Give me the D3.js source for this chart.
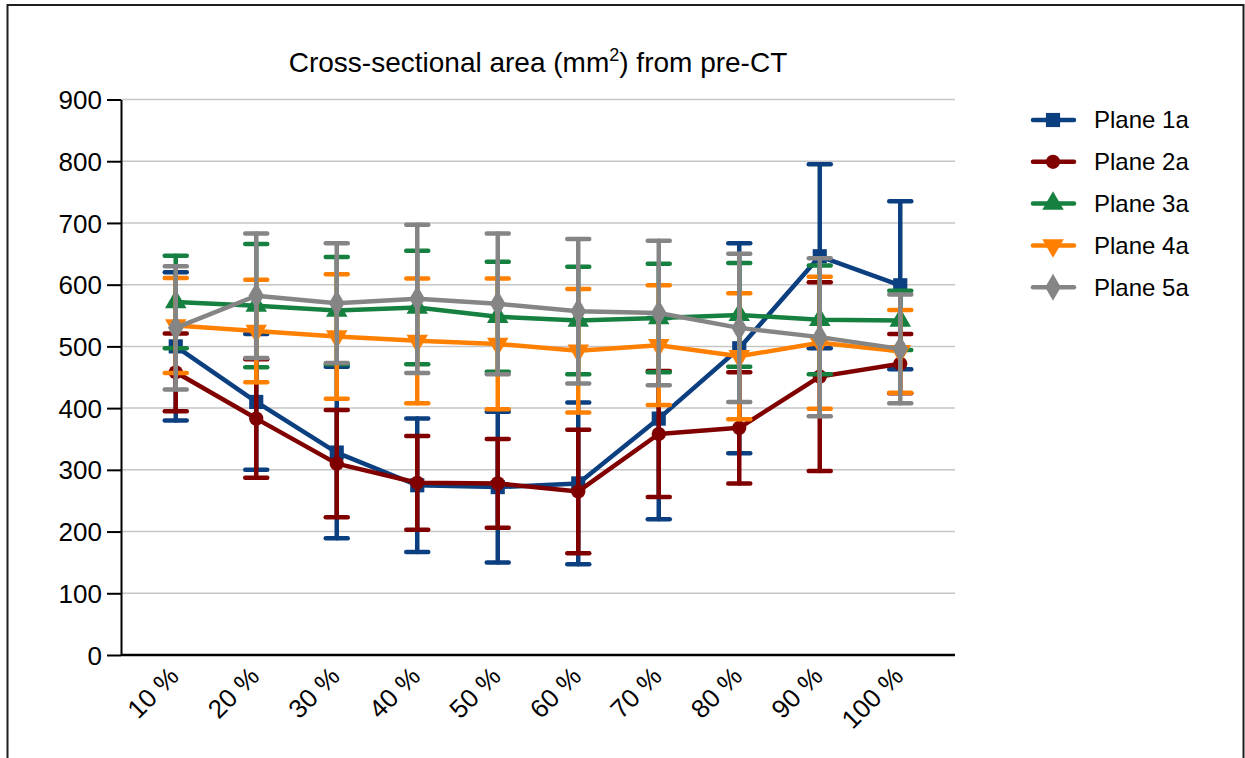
<!DOCTYPE html>
<html>
<head>
<meta charset="utf-8">
<script src="https://cdn.jsdelivr.net/npm/d3@7"></script>
<style>
  body { margin: 0; background: #fff; }
  svg text { font-family: "Liberation Sans", Arial, sans-serif; fill: #000; }
</style>
</head>
<body>
<svg id="chart" width="1245" height="758"></svg>
<script>
let categories = ['10 %', '20 %', '30 %', '40 %', '50 %', '60 %', '70 %', '80 %', '90 %', '100 %'];
let seriesNames = ['Plane 1a', 'Plane 2a', 'Plane 3a', 'Plane 4a', 'Plane 5a'];
let yTicks = [0, 100, 200, 300, 400, 500, 600, 700, 800, 900];

// means and SDs per plane
let plane1Mean = [500, 410, 328, 275, 272, 278, 383, 497, 646, 599];
let plane1Sd = [120, 110, 139, 108, 122, 131, 163, 170, 149, 136];
let plane2Mean = [458, 383, 310, 279, 278, 265, 358, 368, 451, 472];
let plane2Sd = [63, 96, 87, 76, 72, 100, 102, 90, 153, 48];
let plane3Mean = [572, 566, 558, 563, 548, 542, 546, 551, 543, 542];
let plane3Sd = [75, 100, 87, 92, 89, 87, 88, 84, 88, 48];
let plane4Mean = [534, 525, 516, 509, 504, 493, 502, 484, 506, 492];
let plane4Sd = [77, 83, 101, 101, 106, 100, 97, 102, 107, 67];
let plane5Mean = [530, 582, 570, 577, 569, 557, 554, 530, 515, 496];
let plane5Sd = [100, 101, 97, 120, 114, 117, 117, 120, 128, 88];

let colors = ['#0b3f80', '#800000', '#15803f', '#ff8000', '#858585'];
let symbols = [d3.symbolSquare, d3.symbolCircle, d3.symbolTriangle, 'down', d3.symbolDiamond];

let series = [
    {name: seriesNames[0], mean: plane1Mean, sd: plane1Sd},
    {name: seriesNames[1], mean: plane2Mean, sd: plane2Sd},
    {name: seriesNames[2], mean: plane3Mean, sd: plane3Sd},
    {name: seriesNames[3], mean: plane4Mean, sd: plane4Sd},
    {name: seriesNames[4], mean: plane5Mean, sd: plane5Sd}
];

let svg = d3.select('#chart');
let plotLeft = 121, plotRight = 955, plotTop = 99.5, plotBottom = 655;

// outer frame
svg.append('rect')
    .attr('x', 7.5).attr('y', 5)
    .attr('width', 1236).attr('height', 800)
    .attr('fill', 'none').attr('stroke', '#1e1e1e').attr('stroke-width', 2);

let x = d3.scalePoint().domain(categories).range([plotLeft, plotRight]).padding(0.68);
let y = d3.scaleLinear().domain([0, 900]).range([plotBottom, plotTop]);

// grid
svg.append('g').selectAll('line')
    .data(yTicks.filter(d => d > 0))
    .join('line')
    .attr('x1', plotLeft).attr('x2', plotRight)
    .attr('y1', d => y(d)).attr('y2', d => y(d))
    .attr('stroke', '#c6c6c6').attr('stroke-width', 1.5);

// y axis
let yAxis = svg.append('g')
    .attr('transform', `translate(${plotLeft},0)`)
    .call(d3.axisLeft(y).tickValues(yTicks).tickSize(14).tickPadding(5).tickSizeOuter(0));
yAxis.select('.domain').attr('stroke', '#000').attr('stroke-width', 2);
yAxis.selectAll('.tick line').attr('stroke', '#000').attr('stroke-width', 2);
yAxis.selectAll('.tick text').attr('font-size', 26).attr('dy', '0.35em');

// x axis
let xAxis = svg.append('g')
    .attr('transform', `translate(0,${plotBottom})`)
    .call(d3.axisBottom(x).tickSize(0).tickSizeOuter(0));
xAxis.select('.domain').attr('stroke', '#000').attr('stroke-width', 2.5)
    .attr('d', `M${plotLeft},0H${plotRight}`);
xAxis.selectAll('.tick text')
    .attr('font-size', 26)
    .attr('text-anchor', 'end')
    .attr('dy', 0)
    .attr('transform', 'translate(4,23) rotate(-45)')
    .attr('y', 0).attr('x', 0);

// title
let title = svg.append('text')
    .attr('x', (plotLeft + plotRight) / 2).attr('y', 72)
    .attr('text-anchor', 'middle')
    .attr('font-size', 28);
title.append('tspan').text('Cross-sectional area (mm');
title.append('tspan').text('2').attr('font-size', 18).attr('dy', -11);
title.append('tspan').text(') from pre-CT').attr('dy', 11);

function marker(sel, i) {
    if (symbols[i] === 'down') {
        sel.attr('d', d3.symbol(d3.symbolTriangle, 200)()).attr('transform', function () {
            return d3.select(this).attr('data-t') + ' rotate(180)';
        });
    } else {
        let size = [200, 160, 200, 200, 210][i];
        sel.attr('d', d3.symbol(symbols[i], size)());
    }
}

let capW = 11;
let line = d3.line().x((d, j) => x(categories[j])).y(d => y(d));

series.forEach(function (s, i) {
    let g = svg.append('g');
    let c = colors[i];
    let pts = s.mean.map((m, j) => ({cat: categories[j], m: m, sd: s.sd[j]}));

    let eb = g.append('g').attr('stroke', c).attr('stroke-width', 4.5).attr('stroke-linecap', 'round');
    eb.selectAll('.v').data(pts).join('line').attr('class', 'v')
        .attr('x1', d => x(d.cat)).attr('x2', d => x(d.cat))
        .attr('y1', d => y(d.m - d.sd)).attr('y2', d => y(d.m + d.sd));
    eb.selectAll('.hi').data(pts).join('line').attr('class', 'hi')
        .attr('x1', d => x(d.cat) - capW).attr('x2', d => x(d.cat) + capW)
        .attr('y1', d => y(d.m + d.sd)).attr('y2', d => y(d.m + d.sd));
    eb.selectAll('.lo').data(pts).join('line').attr('class', 'lo')
        .attr('x1', d => x(d.cat) - capW).attr('x2', d => x(d.cat) + capW)
        .attr('y1', d => y(d.m - d.sd)).attr('y2', d => y(d.m - d.sd));

    g.append('path')
        .attr('d', line(s.mean))
        .attr('fill', 'none').attr('stroke', c).attr('stroke-width', 4.5)
        .attr('stroke-linejoin', 'round');

    g.selectAll('.mk').data(pts).join('path').attr('class', 'mk')
        .attr('fill', c)
        .attr('data-t', d => `translate(${x(d.cat)},${y(d.m)})`)
        .attr('transform', d => `translate(${x(d.cat)},${y(d.m)})`)
        .call(marker, i);
});

// legend
let legend = svg.append('g');
series.forEach(function (s, i) {
    let ly = 120 + i * 41.8;
    let lg = legend.append('g');
    lg.append('line')
        .attr('x1', 1033).attr('x2', 1074).attr('y1', ly).attr('y2', ly)
        .attr('stroke', colors[i]).attr('stroke-width', 4.5).attr('stroke-linecap', 'round');
    lg.append('path')
        .attr('fill', colors[i])
        .attr('data-t', `translate(1053,${ly})`)
        .attr('transform', `translate(1053,${ly})`)
        .call(marker, i);
    lg.append('text')
        .attr('x', 1094).attr('y', ly).attr('dy', '0.35em')
        .attr('font-size', 24)
        .text(s.name);
});
</script>
</body>
</html>
